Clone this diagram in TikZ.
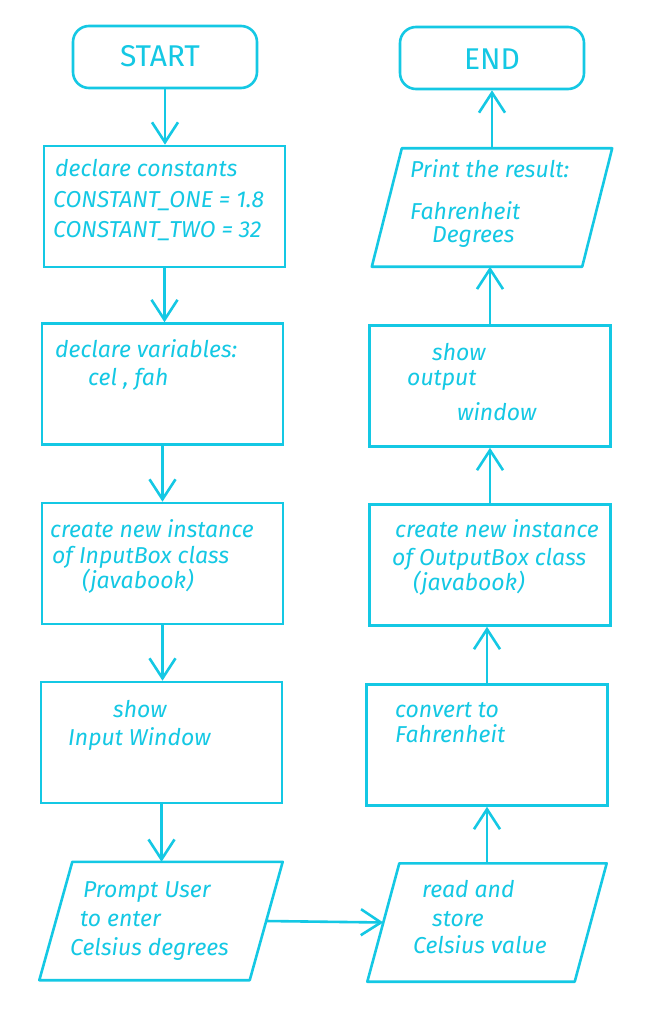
\documentclass[tikz,border=0pt]{standalone}
\usepackage{fontspec}
\setmainfont{Fira Sans}
\usetikzlibrary{arrows.meta}
\definecolor{ink}{RGB}{20,200,228}
\begin{document}
\begin{tikzpicture}[x=1pt,y=-1pt,
  term/.style={draw=ink, line width=2.6pt, rectangle, rounded corners=16pt, minimum width=184pt, minimum height=62pt, inner sep=0pt},
  procbox/.style={draw=ink, line width=2.6pt, rectangle, minimum width=241pt, minimum height=121pt, inner sep=0pt},
  iobox/.style={rectangle, minimum width=#1, minimum height=118pt, inner sep=0pt},
  slantline/.style={draw=ink, line width=2.6pt, line join=round},
  flow/.style={draw=ink, line width=2.6pt, -{Straight Barb[length=20pt,width=26pt]}},
  hand/.style={text=ink, font=\fontsize{23}{26}\selectfont\itshape, anchor=base west, inner sep=0pt},
  big/.style={text=ink, font=\fontsize{30}{32}\selectfont, anchor=base, inner sep=0pt}]
\fill[white] (0,0) rectangle (657,1024);
\useasboundingbox (0,0) rectangle (657,1024);
% left column
\node[term] (start) at (165,57) {};
\node[procbox] (b1) at (164.5,206.5) {};
\node[procbox] (b2) at (162.5,384) {};
\node[procbox] (b3) at (162.5,563.5) {};
\node[procbox] (b4) at (161.5,742.5) {};
\node[iobox=210pt] (p5) at (161,921) {};
\draw[slantline] ([xshift=-16.5pt]p5.south west) -- ([xshift=-16.5pt]p5.south east) -- ([xshift=16.5pt]p5.north east) -- ([xshift=16.5pt]p5.north west) -- cycle;
% right column
\node[term] (end) at (492,58) {};
\node[iobox=210pt] (r1) at (492,207.5) {};
\draw[slantline] ([xshift=-15pt]r1.south west) -- ([xshift=-15pt]r1.south east) -- ([xshift=15pt]r1.north east) -- ([xshift=15pt]r1.north west) -- cycle;
\node[procbox] (r2) at (490,386) {};
\node[procbox] (r3) at (490,565) {};
\node[procbox] (r4) at (487,745) {};
\node[iobox=207pt] (p6) at (487,922.5) {};
\draw[slantline] ([xshift=-16pt]p6.south west) -- ([xshift=-16pt]p6.south east) -- ([xshift=16pt]p6.north east) -- ([xshift=16pt]p6.north west) -- cycle;
% texts
\node[big] (tstart) at (160,67) {START};
\node[big] (tend) at (492,70) {END};
\node[hand] (t1a) at (55,177) {declare constants};
\node[hand] (t1b) at (53,208) {CONSTANT\_ONE = 1.8};
\node[hand] (t1c) at (53,237) {CONSTANT\_TWO = 32};
\node[hand] (t2a) at (55,357) {declare variables:};
\node[hand] (t2b) at (88,385) {cel , fah};
\node[hand] (t3a) at (50,537) {create new instance};
\node[hand] (t3b) at (52,563) {of InputBox class};
\node[hand] (t3c) at (82,588) {(javabook)};
\node[hand] (t4a) at (113,717) {show};
\node[hand] (t4b) at (68,745) {Input Window};
\node[hand] (t5a) at (83,897) {Prompt User};
\node[hand] (t5b) at (80,926) {to enter};
\node[hand] (t5c) at (70,955) {Celsius degrees};
\node[hand] (u1a) at (410,178) {Print the result:};
\node[hand] (u1b) at (410,220) {Fahrenheit};
\node[hand] (u1c) at (432,242) {Degrees};
\node[hand] (u2a) at (432,360) {show};
\node[hand] (u2b) at (407,385) {output};
\node[hand] (u2c) at (457,420) {window};
\node[hand] (u3a) at (395,537) {create new instance};
\node[hand] (u3b) at (392,565) {of OutputBox class};
\node[hand] (u3c) at (413,590) {(javabook)};
\node[hand] (u4a) at (395,717) {convert to};
\node[hand] (u4b) at (395,742) {Fahrenheit};
\node[hand] (u5a) at (422,897) {read and};
\node[hand] (u5b) at (432,926) {store};
\node[hand] (u5c) at (413,953) {Celsius value};
% connectors
\draw[flow] (start.south) -- (start.south |- b1.north);
\draw[flow] (b1.south) -- (b1.south |- b2.north);
\draw[flow] (b2.south) -- (b2.south |- b3.north);
\draw[flow] (b3.south) -- (b3.south |- b4.north);
\draw[flow] (b4.south) -- (b4.south |- p5.north);
\draw[flow] (p5.east) -- (p6.west);
\draw[flow] (p6.north) -- (p6.north |- r4.south);
\draw[flow] (r4.north) -- (r4.north |- r3.south);
\draw[flow] (r3.north) -- (r3.north |- r2.south);
\draw[flow] (r2.north) -- (r2.north |- r1.south);
\draw[flow] (r1.north) -- (r1.north |- end.south);
\end{tikzpicture}
\end{document}
